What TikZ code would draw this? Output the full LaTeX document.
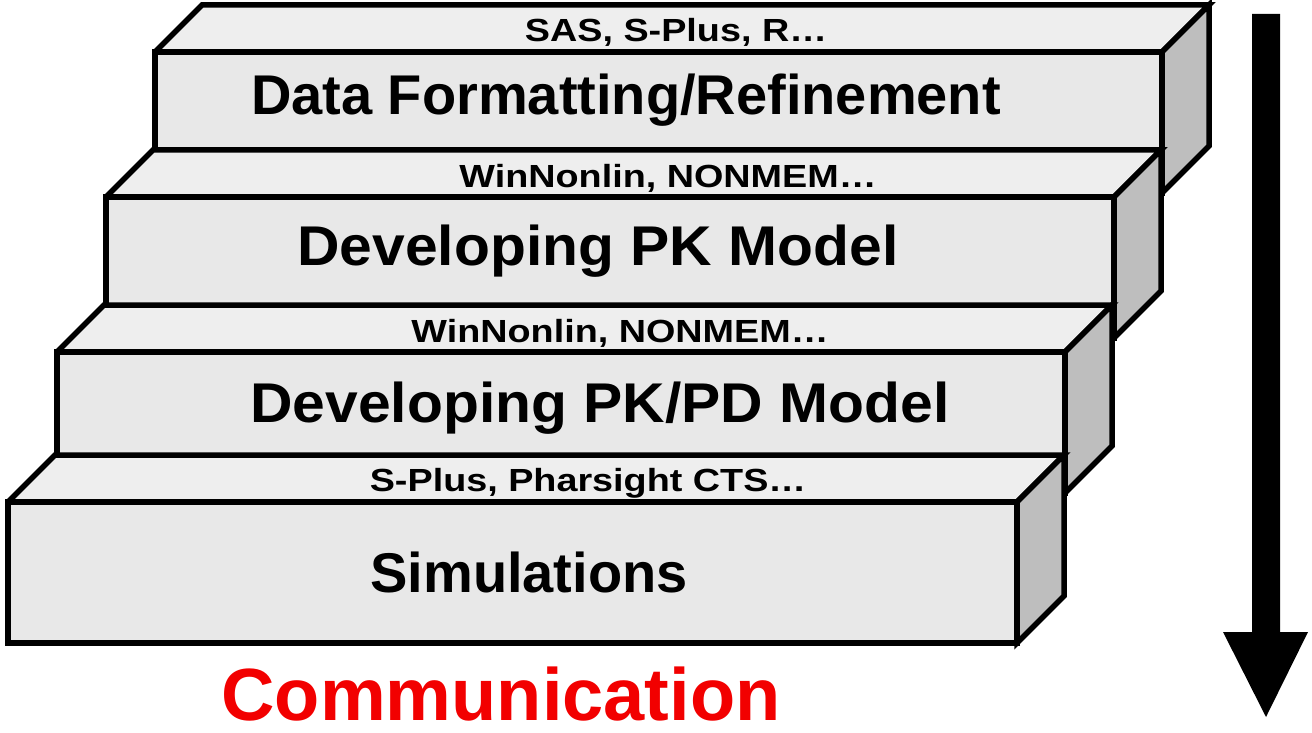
\documentclass[tikz,border=0pt]{standalone}
\usepackage{fontspec}
\setmainfont{Liberation Sans}
\usepackage{graphicx}
\definecolor{frontc}{HTML}{E8E8E8}
\definecolor{topc}{HTML}{EEEEEE}
\definecolor{sidec}{HTML}{BEBEBE}
\definecolor{commred}{HTML}{F20000}
\tikzset{
  face/.style={draw=black, line width=5.5pt, line join=miter},
  bigtext/.style={inner sep=0pt, anchor=base, font=\bfseries\fontsize{56}{60}\selectfont},
  smalltext/.style={inner sep=0pt, anchor=base, font=\bfseries\fontsize{32}{36}\selectfont},
}
\newcommand{\stepbox}[3]{% L, R, T  (image coords)
  \fill[topc] (#1,#3) -- ++(47,-47) -- (#2+47,#3-47) -- (#2,#3) -- cycle;
  \draw[face] (#1,#3) -- ++(47,-47) -- (#2+47,#3-47) -- (#2,#3);
  \filldraw[face, fill=sidec] (#2,#3) -- (#2+47,#3-47) -- (#2+47,#3+94) -- (#2,#3+141) -- cycle;
  \filldraw[face, fill=frontc] (#1,#3) rectangle (#2,#3+141);
}
\newcommand{\wide}[1]{\scalebox{1.18}[1]{#1}}
\newcommand{\wider}[1]{\scalebox{1.05}[1]{#1}}
\begin{document}
\begin{tikzpicture}[x=1pt,y=-1pt]
\useasboundingbox (0,0) rectangle (1312,733);
\stepbox{155}{1162}{52}
\node[smalltext] (l1) at (676,42) {\wide{SAS, S-Plus, R…}};
\node[bigtext] (b1) at (626,115) {Data Formatting/Refinement};
\stepbox{106}{1114}{197}
\node[smalltext] (l2) at (668,187) {\wide{WinNonlin, NONMEM…}};
\node[bigtext] (b2) at (598,265) {\wider{Developing PK Model}};
\stepbox{57}{1065}{352}
\node[smalltext] (l3) at (620,342) {\wide{WinNonlin, NONMEM…}};
\node[bigtext] (b3) at (600,422) {\wider{Developing PK/PD Model}};
\stepbox{8}{1017}{502}
\node[smalltext] (l4) at (588,491) {\wide{S-Plus, Pharsight CTS…}};
\node[bigtext] (b4) at (529,592) {Simulations};
\node[inner sep=0pt, anchor=base, text=commred, font=\bfseries\fontsize{74}{78}\selectfont] (comm) at (501,720) {Communication};
\fill[black] (1252,14) -- (1280,14) -- (1280,632) -- (1308,632) -- (1266,717) -- (1223,632) -- (1252,632) -- cycle;
\end{tikzpicture}
\end{document}
